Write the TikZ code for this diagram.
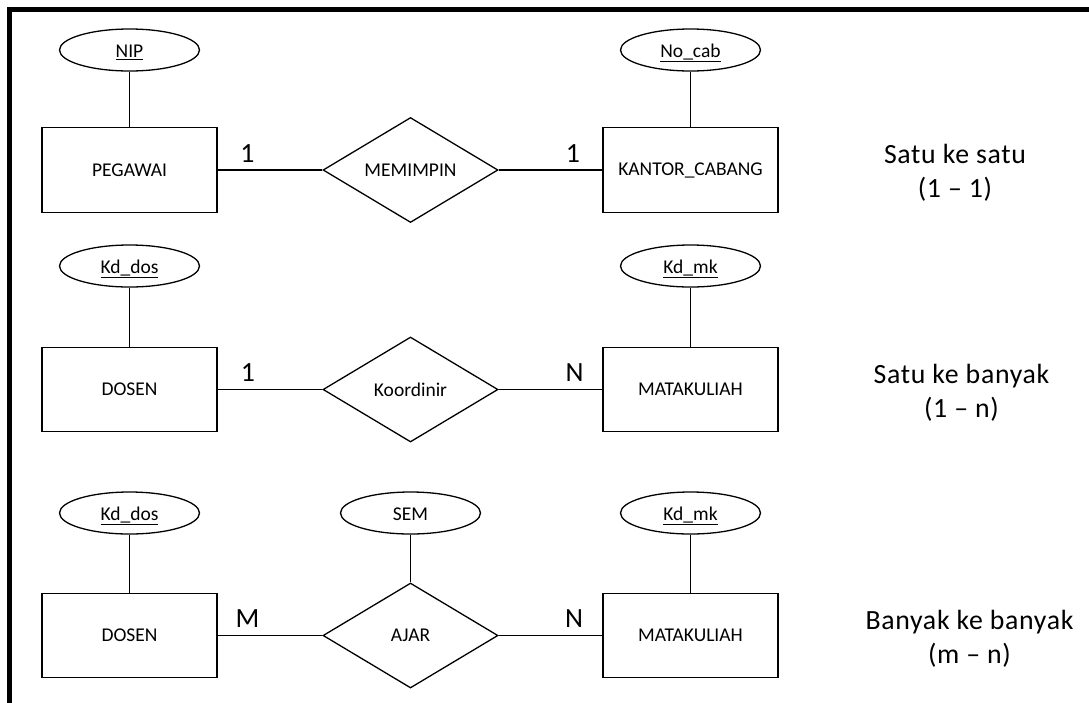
\documentclass[tikz,border=0pt]{standalone}
\usepackage{fontspec}
\setmainfont{Carlito}
\newfontfamily\widefont[LetterSpace=2.5]{Carlito}
\usetikzlibrary{shapes.geometric}
\begin{document}
\begin{tikzpicture}[x=1pt,y=-1pt,
  entity/.style={draw, line width=1.3pt, rectangle, minimum width=175pt,
    minimum height=84.5pt, inner sep=0pt, font=\fontsize{19.5}{23}\selectfont},
  relation/.style={draw, line width=1.3pt, diamond, minimum width=175pt,
    minimum height=105pt, inner sep=0pt, font=\fontsize{19.5}{23}\selectfont},
  attr/.style={draw, line width=1.3pt, ellipse, minimum width=140pt,
    minimum height=42pt, inner sep=0pt, text height=15pt, text depth=0pt,
    font=\fontsize{19.5}{23}\selectfont},
  card/.style={anchor=base, inner sep=0pt, font=\fontsize{27.8}{34}\selectfont},
  kind/.style={align=center, inner sep=0pt, font=\widefont\fontsize{27.8}{34}\selectfont},
  link/.style={line width=1.3pt}]
\useasboundingbox (0,0) rectangle (1089,702);
\fill[white] (0,0) rectangle (1089,702);
% frame
\draw[line width=4.5pt, line join=miter] (9.5,710) -- (9.5,9.5) -- (1100,9.5);

% one-to-one
\node[entity] (peg) at (129.5,170) {PEGAWAI};
\node[relation] (pimpin) at (410.5,170) {MEMIMPIN};
\node[entity] (kc) at (690.5,170) {KANTOR\_CABANG};
\node[attr] (nip) at (129.5,50) {\underline{NIP}};
\node[attr] (nocab) at (690.5,50) {\underline{No\_cab}};
\draw[link] (nip) -- (peg);
\draw[link] (nocab) -- (kc);
\draw[link] (peg) -- (pimpin);
\draw[link] (pimpin) -- (kc);
\node[card] (c11) at (247.5,162) {1};
\node[card] (c12) at (573,162) {1};
\node[kind] (k1) at (955,173) {Satu ke satu\\(1 – 1)};

% one-to-many
\node[entity] (dos1) at (129.5,389.5) {DOSEN};
\node[relation] (koor) at (410.5,389.5) {Koordinir};
\node[entity] (mk1) at (690.5,389.5) {MATAKULIAH};
\node[attr] (kddos1) at (129.5,266) {\underline{Kd\_dos}};
\node[attr] (kdmk1) at (690.5,266) {\underline{Kd\_mk}};
\draw[link] (kddos1) -- (dos1);
\draw[link] (kdmk1) -- (mk1);
\draw[link] (dos1) -- (koor);
\draw[link] (koor) -- (mk1);
\node[card] (c21) at (248,381) {1};
\node[card] (c22) at (574.5,381) {N};
\node[kind] (k2) at (961.5,392.5) {Satu ke banyak\\(1 – n)};

% many-to-many
\node[entity] (dos2) at (129.5,635.5) {DOSEN};
\node[relation] (ajar) at (410.5,635.5) {AJAR};
\node[entity] (mk2) at (690.5,635.5) {MATAKULIAH};
\node[attr] (kddos2) at (129.5,513) {\underline{Kd\_dos}};
\node[attr] (sem) at (410.5,513) {SEM};
\node[attr] (kdmk2) at (690.5,513) {\underline{Kd\_mk}};
\draw[link] (kddos2) -- (dos2);
\draw[link] (sem) -- (ajar);
\draw[link] (kdmk2) -- (mk2);
\draw[link] (dos2) -- (ajar);
\draw[link] (ajar) -- (mk2);
\node[card] (c31) at (247.5,627) {M};
\node[card] (c32) at (574,627) {N};
\node[kind] (k3) at (969.5,638.5) {Banyak ke banyak\\(m – n)};
\end{tikzpicture}
\end{document}
